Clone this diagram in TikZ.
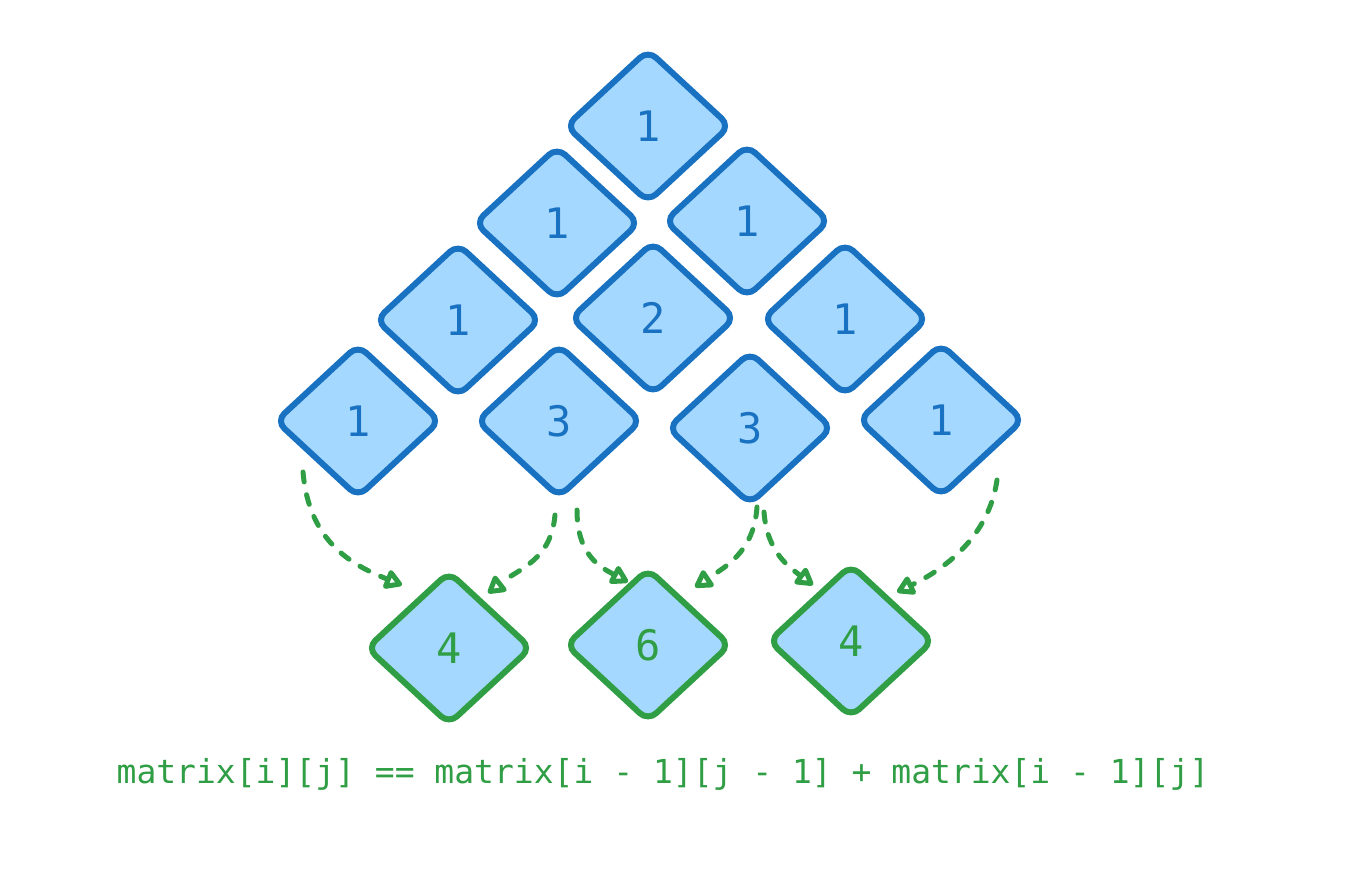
\documentclass[tikz,border=0pt]{standalone}
\usepackage{fontspec}
\setmonofont{DejaVu Sans Mono}
\usetikzlibrary{shapes.geometric,arrows.meta}
\definecolor{cellblue}{HTML}{1971C2}
\definecolor{cellfill}{HTML}{A5D8FF}
\definecolor{sumgreen}{HTML}{2F9E44}
\begin{document}
\begin{tikzpicture}[x=1pt, y=-1pt,
    tile/.style = {shape=diamond, draw, line width=6pt,
      rounded corners=11pt, minimum width=166pt, minimum height=154pt,
      inner sep=0pt, fill=cellfill, font=\ttfamily\fontsize{42}{42}\selectfont},
    cell/.style = {tile, draw=cellblue, text=cellblue},
    total/.style = {tile, draw=sumgreen, text=sumgreen},
    formula/.style = {text=sumgreen, font=\ttfamily\fontsize{33}{33}\selectfont},
    link/.style = {draw=sumgreen, line width=5pt, line cap=round,
      dash pattern=on 10pt off 13pt,
      -{Triangle[open, length=20pt, width=22pt, line join=round]}}]
    \useasboundingbox (0,0) rectangle (1352,868);
    % Pascal rows
    \node[cell] (r0) at (648,126) {1};
    \node[cell] (r1a) at (557,223) {1};
    \node[cell] (r1b) at (747,221) {1};
    \node[cell] (r2a) at (458,320) {1};
    \node[cell] (r2b) at (653,318) {2};
    \node[cell] (r2c) at (845,319) {1};
    \node[cell] (r3a) at (358,421) {1};
    \node[cell] (r3b) at (559,421) {3};
    \node[cell] (r3c) at (750,428) {3};
    \node[cell] (r3d) at (941,420) {1};
    % next row sums
    \node[total] (s1) at (449,648) {4};
    \node[total] (s2) at (648,645) {6};
    \node[total] (s3) at (851,641) {4};
    \node[formula] (rule) at (663,774) {matrix[i][j] == matrix[i - 1][j - 1] + matrix[i - 1][j]};
    % arrow ends
    \coordinate (a1s) at ([shift={(-55,51)}]r3a.center);
    \coordinate (a1t) at ([shift={(-47,-63)}]s1.center);
    \coordinate (a2s) at ([shift={(-4,94)}]r3b.center);
    \coordinate (a2t) at ([shift={(39,-55)}]s1.center);
    \coordinate (a3s) at ([shift={(18,89)}]r3b.center);
    \coordinate (a3t) at ([shift={(-20,-63)}]s2.center);
    \coordinate (a4s) at ([shift={(7,79)}]r3c.center);
    \coordinate (a4t) at ([shift={(47,-58)}]s2.center);
    \coordinate (a5s) at ([shift={(14,84)}]r3c.center);
    \coordinate (a5t) at ([shift={(-38,-56)}]s3.center);
    \coordinate (a6s) at ([shift={(56,60)}]r3d.center);
    \coordinate (a6t) at ([shift={(46,-49)}]s3.center);
    \draw[link] (a1s) .. controls +(6,70) and +(-50,-20) .. (a1t);
    \draw[link] (a2s) .. controls +(-4,45) and +(32,-25) .. (a2t);
    \draw[link] (a3s) .. controls +(0,45) and +(-28,-15) .. (a3t);
    \draw[link] (a4s) .. controls +(-3,45) and +(30,-20) .. (a4t);
    \draw[link] (a5s) .. controls +(3,40) and +(-24,-18) .. (a5t);
    \draw[link] (a6s) .. controls +(-8,55) and +(50,-24) .. (a6t);
\end{tikzpicture}
\end{document}
